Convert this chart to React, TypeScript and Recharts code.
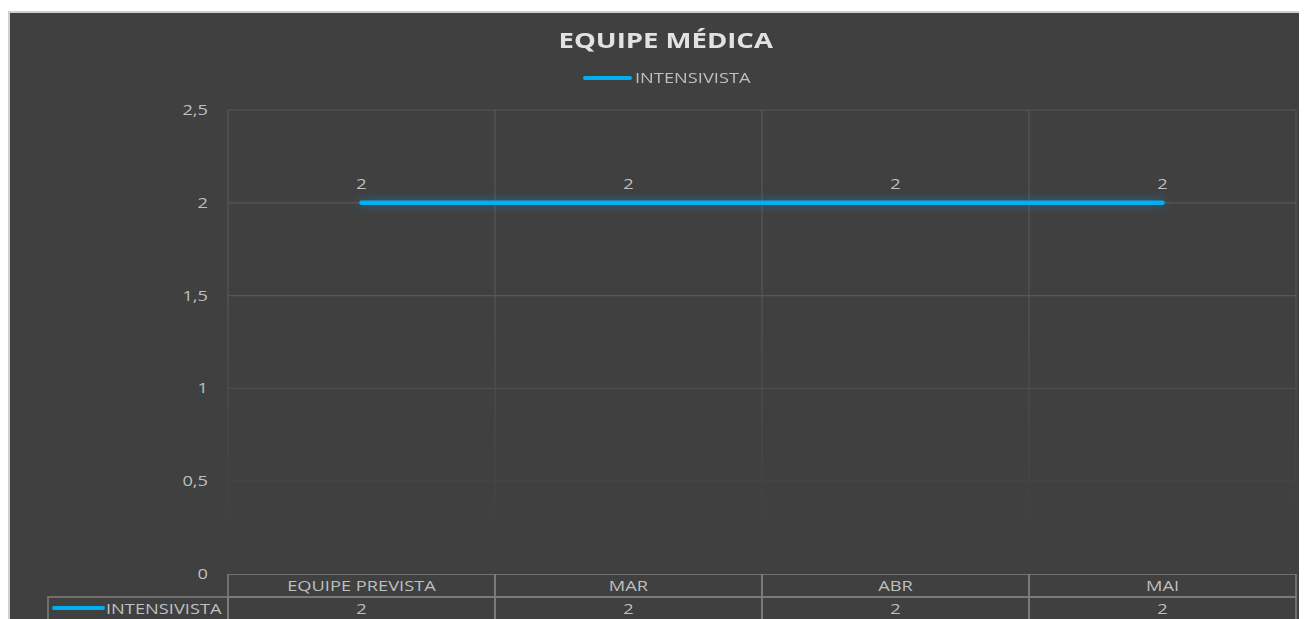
import React from 'react';
import { LineChart, Line, XAxis, YAxis, CartesianGrid, LabelList } from 'recharts';

const categories = ['EQUIPE PREVISTA', 'MAR', 'ABR', 'MAI'];
const intensivista = [2, 2, 2, 2];
const yTicks = [0, 0.5, 1, 1.5, 2, 2.5];
const seriesName = 'INTENSIVISTA';
const title = 'EQUIPE MÉDICA';

const data = categories.map((c, i) => ({ cat: c, v: intensivista[i] }));

const FONT = '"Open Sans", sans-serif';
const TXT = '#bfbfbf';
const BORDER = '#7f7f7f';
const BLUE = '#00b0f0';
const SX = 1.26;

const W = 1299;
const H = 608;

const fmt = (v: number) => String(v).replace('.', ',');

const SText = ({ x, y, anchor = 'middle', children }: any) => (
  <text
    transform={`translate(${x},${y}) scale(${SX},1)`}
    x={0}
    y={0}
    textAnchor={anchor}
    fill={TXT}
    fontSize={14.5}
    fontFamily={FONT}
  >
    {children}
  </text>
);

const YTick = (props: any) => {
  const { x, y, payload } = props;
  return <SText x={x} y={y + 5} anchor="end">{fmt(payload.value)}</SText>;
};

const PointLabel = (props: any) => {
  const { x, y, width, value } = props;
  return <SText x={x + (width || 0) / 2} y={y - 14}>{fmt(value)}</SText>;
};

const TableTick = (props: any) => {
  const { x, y, payload, index, width } = props;
  const n = categories.length;
  const bw = (width || 1066) / n;
  const left = x - bw / 2;
  const top = y;
  const rowH = 23;
  const val = intensivista[index];
  return (
    <g>
      <rect x={left} y={top} width={bw} height={rowH} fill="none" stroke={BORDER} strokeWidth={1.5} />
      <SText x={x} y={top + 17}>{payload.value}</SText>
      <rect x={left} y={top + rowH} width={bw} height={rowH + 4} fill="none" stroke={BORDER} strokeWidth={1.5} />
      <SText x={x} y={top + rowH + 17}>{fmt(val)}</SText>
      {index === 0 && (
        <g>
          <rect x={left - 180} y={top + rowH} width={180} height={rowH + 4} fill="none" stroke={BORDER} strokeWidth={1.5} />
          <line x1={left - 174} x2={left - 125} y1={top + rowH + 11} y2={top + rowH + 11} stroke={BLUE} strokeWidth={4} strokeLinecap="round" />
          <SText x={left - 122} y={top + rowH + 17} anchor="start">{seriesName}</SText>
        </g>
      )}
    </g>
  );
};

export default function App() {
  return (
    <div
      style={{
        marginTop: 3,
        width: W,
        height: H,
        background: '#404040',
        borderLeft: '2px solid #cfcfcf',
        borderTop: '2px solid #cfcfcf',
        position: 'relative',
        overflow: 'hidden',
        boxSizing: 'border-box',
      }}
    >
      <style>{`.glow path { filter: drop-shadow(0 0 5px rgba(0,150,230,0.55)); }`}</style>
      <div
        style={{
          position: 'absolute',
          top: 11,
          left: 0,
          width: '100%',
          textAlign: 'center',
          fontFamily: FONT,
          fontWeight: 700,
          fontSize: 22,
          color: '#e2e2e2',
          paddingLeft: 14,
          boxSizing: 'border-box',
        }}
      >
        <span style={{ display: 'inline-block', transform: 'scaleX(1.25)' }}>{title}</span>
      </div>
      <div
        style={{
          position: 'absolute',
          top: 55,
          left: 573,
          display: 'flex',
          alignItems: 'center',
          fontFamily: FONT,
          fontSize: 14.5,
          color: TXT,
          whiteSpace: 'nowrap',
        }}
      >
        <div style={{ width: 49, height: 4, borderRadius: 2, background: BLUE, marginRight: 3 }} />
        <span style={{ display: 'inline-block', transform: `scaleX(${SX})`, transformOrigin: 'left center' }}>
          {seriesName}
        </span>
      </div>
      <LineChart
        width={W - 2}
        height={H - 2}
        data={data}
        margin={{ top: 97, right: 11, left: 160, bottom: 0 }}
        style={{ position: 'absolute', top: 0, left: 0 }}
      >
        <CartesianGrid
          stroke="#575757"
          strokeWidth={1.2}
          horizontalValues={yTicks.filter((t) => t > 0)}
          verticalCoordinatesGenerator={({ offset }: any) => {
            const n = categories.length;
            return Array.from({ length: n + 1 }, (_, i) => offset.left + (offset.width * i) / n);
          }}
        />
        <XAxis
          dataKey="cat"
          scale="band"
          axisLine={false}
          tickLine={false}
          height={45}
          interval={0}
          tick={<TableTick />}
          tickSize={0}
          tickMargin={0}
        />
        <YAxis
          width={58}
          domain={[0, 2.5]}
          ticks={yTicks}
          axisLine={false}
          tickLine={false}
          tickSize={0}
          tickMargin={20}
          tick={<YTick />}
        />
        <Line
          className="glow"
          dataKey="v"
          stroke={BLUE}
          strokeWidth={4.5}
          strokeLinecap="round"
          dot={false}
          activeDot={false}
          isAnimationActive={false}
        >
          <LabelList dataKey="v" content={<PointLabel />} />
        </Line>
      </LineChart>
      <div
        style={{
          position: 'absolute',
          top: 289,
          left: 214,
          right: 0,
          height: 272,
          pointerEvents: 'none',
          background:
            'linear-gradient(to bottom, rgba(64,64,64,0) 0%, rgba(64,64,64,0.85) 70%, rgba(64,64,64,1) 88%)',
        }}
      />
    </div>
  );
}
